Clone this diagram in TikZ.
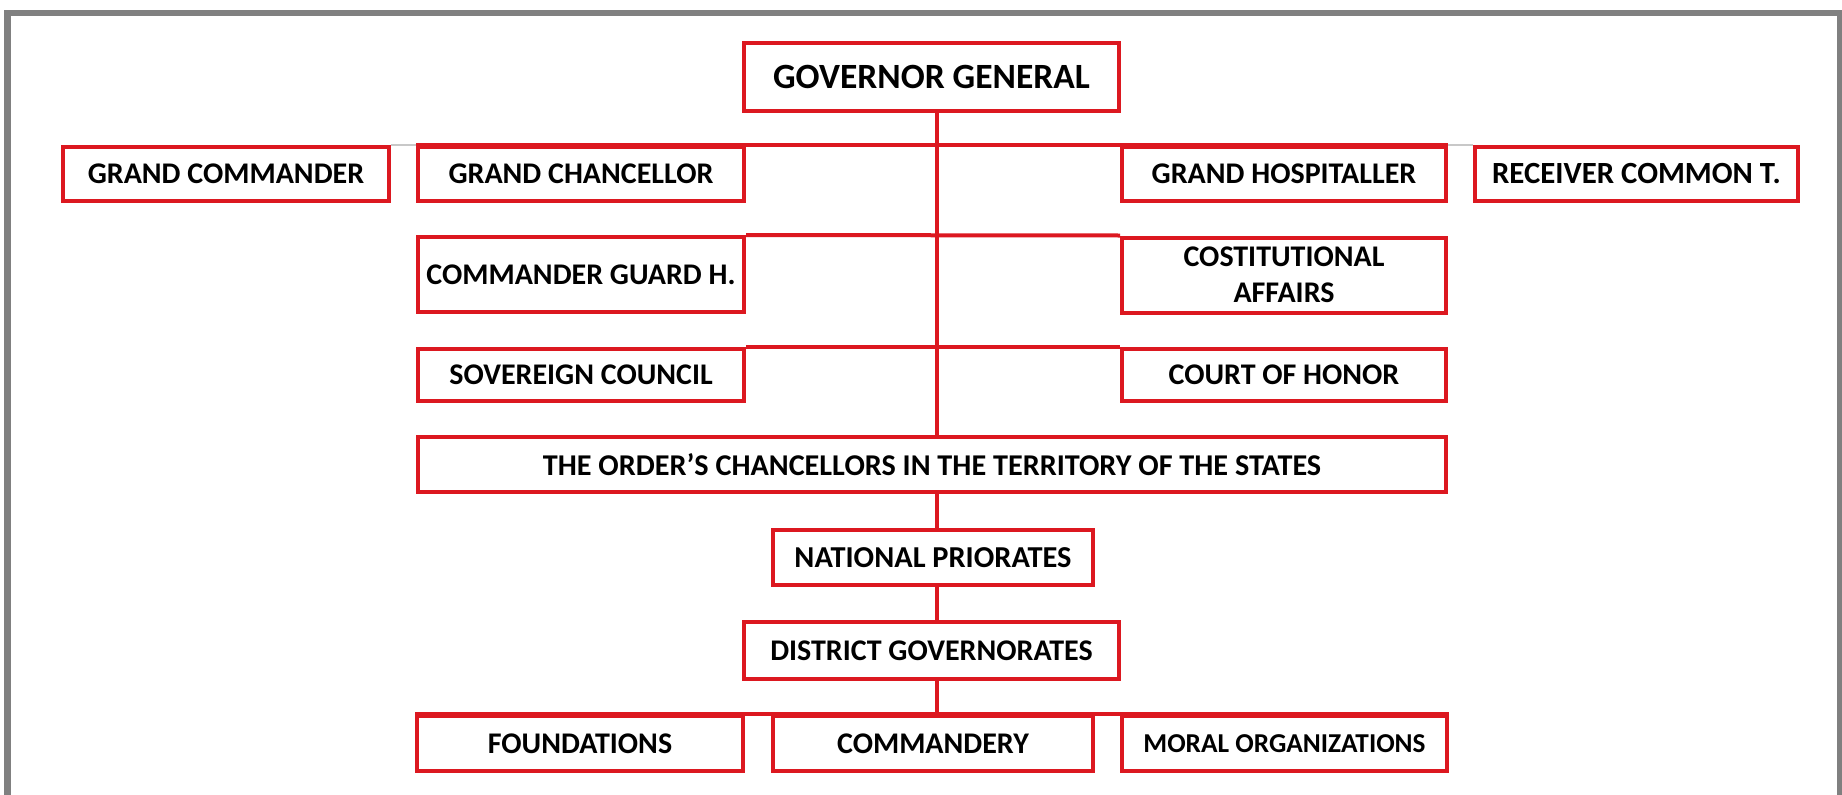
\documentclass[tikz,border=0pt]{standalone}
\usepackage{fontspec}
\setmainfont{Carlito}
\definecolor{boxred}{RGB}{220,24,32}
\definecolor{framegray}{RGB}{128,128,128}
\definecolor{faintgray}{RGB}{200,200,200}
\begin{document}
\begin{tikzpicture}[x=1pt,y=-1pt,
  box/.style={draw=boxred,line width=4pt,rectangle,inner sep=0pt,fill=white,
    align=center,font=\bfseries\fontsize{30}{36}\selectfont,text=black},
  wire/.style={draw=boxred,line width=4pt},
  faint/.style={draw=faintgray,line width=1.5pt}]
\useasboundingbox (0,0) rectangle (1842,795);
\clip (0,0) rectangle (1842,795);
\draw[framegray,line width=6.5pt] (7.5,800) -- (7.5,13) -- (1840.5,13) -- (1840.5,800);
\coordinate (trunk) at (936.5,0);
% nodes
\node[box,minimum width=375pt,minimum height=68pt,font=\bfseries\fontsize{35.5}{42}\selectfont] (gov) at (931.5,77) {GOVERNOR GENERAL};
\node[box,minimum width=326pt,minimum height=54pt] (gcmd) at (226,174) {GRAND COMMANDER};
\node[box,minimum width=326pt,minimum height=54pt] (gchan) at (581,174) {GRAND CHANCELLOR};
\node[box,minimum width=324pt,minimum height=54pt] (ghosp) at (1284,174) {GRAND HOSPITALLER};
\node[box,minimum width=323pt,minimum height=54pt,font=\bfseries\fontsize{30.8}{36}\selectfont] (recv) at (1636.5,174) {RECEIVER COMMON T.};
\node[box,minimum width=326pt,minimum height=75pt] (cgh) at (581,274.5) {COMMANDER GUARD H.};
\node[box,minimum width=324pt,minimum height=75pt] (cost) at (1284,275) {COSTITUTIONAL\\AFFAIRS};
\node[box,minimum width=326pt,minimum height=52pt] (sov) at (581,375) {SOVEREIGN COUNCIL};
\node[box,minimum width=324pt,minimum height=52pt] (court) at (1284,375) {COURT OF HONOR};
\node[box,minimum width=1028pt,minimum height=55pt,font=\bfseries\fontsize{30.2}{36}\selectfont] (order) at (932,464.5) {THE ORDER’S CHANCELLORS IN THE TERRITORY OF THE STATES};
\node[box,minimum width=320pt,minimum height=55pt,font=\bfseries\fontsize{30.4}{36}\selectfont] (nat) at (933,557.5) {NATIONAL PRIORATES};
\node[box,minimum width=375pt,minimum height=57pt] (dist) at (931.5,650.5) {DISTRICT GOVERNORATES};
\node[box,minimum width=326pt,minimum height=55pt] (found) at (580,743.5) {FOUNDATIONS};
\node[box,minimum width=320pt,minimum height=55pt] (comm) at (933,743.5) {COMMANDERY};
\node[box,minimum width=325pt,minimum height=55pt,font=\bfseries\fontsize{27.3}{32}\selectfont] (moral) at (1284.5,743.5) {MORAL ORGANIZATIONS};
% connectors
\draw[wire] (gov.south -| trunk) -- (order.north -| trunk);
\draw[wire] (gchan.north west) -- (ghosp.north east);
\draw[wire] (cgh.north east) -- (cost.north west);
\draw[wire] (sov.north east) -- (court.north west);
\draw[faint] (gcmd.north east) -- (gchan.north west);
\draw[faint] (ghosp.north east) -- (recv.north west);
\draw[wire] (order.south -| trunk) -- (nat.north -| trunk);
\draw[wire] (nat.south -| trunk) -- (dist.north -| trunk);
\draw[wire] (dist.south -| trunk) -- (comm.north -| trunk);
\draw[wire] (found.north west) -- (moral.north east);
\end{tikzpicture}
\end{document}
